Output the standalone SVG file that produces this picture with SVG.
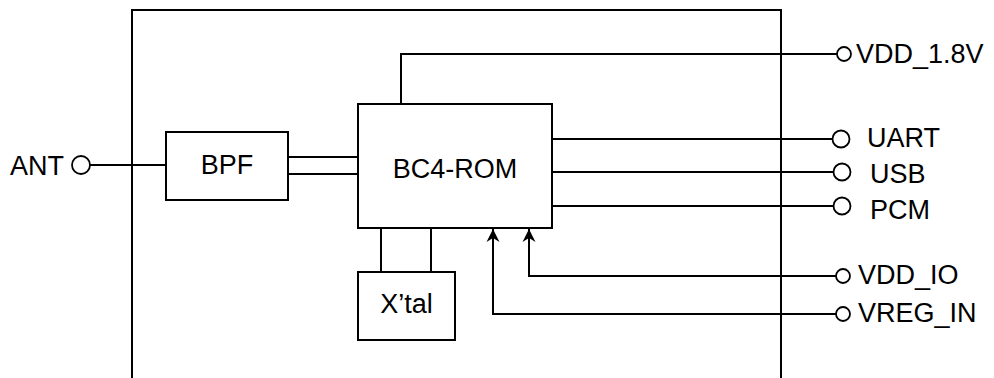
<svg xmlns="http://www.w3.org/2000/svg" width="994" height="378" viewBox="0 0 994 378">
<style>
.box{fill:#fff;stroke:#000;stroke-width:2}
.ln{fill:none;stroke:#000;stroke-width:2}
.pin{fill:#fff;stroke:#000;stroke-width:1.8}
text{font-family:"Liberation Sans",Arial,sans-serif;font-size:27px;fill:#000}
.c{text-anchor:middle}
</style>
<defs>
<marker id="arr" markerWidth="14" markerHeight="14" viewBox="0 0 14 14" refX="13" refY="7" orient="auto" markerUnits="userSpaceOnUse">
<path d="M13,7 L0,0.5 L4,7 L0,13.5 Z" fill="#000"/>
</marker>
</defs>
<g id="frame">
<path class="ln" d="M132,378 V10 H781 V378"/>
</g>
<g id="connectors">
<line class="ln" x1="90" y1="165" x2="166" y2="165"/>
<line class="ln" x1="288" y1="157" x2="358" y2="157"/>
<line class="ln" x1="288" y1="174" x2="358" y2="174"/>
<path class="ln" d="M401,104 V54 H837"/>
<line class="ln" x1="552" y1="139" x2="833" y2="139"/>
<line class="ln" x1="552" y1="172" x2="834" y2="172"/>
<line class="ln" x1="552" y1="206" x2="834" y2="206"/>
<line class="ln" x1="381" y1="228" x2="381" y2="272"/>
<line class="ln" x1="431" y1="228" x2="431" y2="272"/>
<path class="ln" d="M836,276 H529 V229" marker-end="url(#arr)"/>
<path class="ln" d="M836,314 H493 V229" marker-end="url(#arr)"/>
</g>
<g id="ant">
<circle class="pin" cx="81" cy="165" r="9"/>
<text x="10" y="175">ANT</text>
</g>
<g id="bpf">
<rect class="box" x="166" y="132" width="122" height="68"/>
<text class="c" x="227" y="174">BPF</text>
</g>
<g id="bc4rom">
<rect class="box" x="358" y="104" width="194" height="124"/>
<text class="c" x="455" y="178">BC4-ROM</text>
</g>
<g id="xtal">
<rect class="box" x="358" y="272" width="97" height="68"/>
<text class="c" x="406.5" y="313">X’tal</text>
</g>
<g id="vdd18">
<circle class="pin" cx="844" cy="54" r="7"/>
<text x="856" y="63">VDD_1.8V</text>
</g>
<g id="uart">
<circle class="pin" cx="841" cy="139" r="8.5"/>
<text x="867" y="147">UART</text>
</g>
<g id="usb">
<circle class="pin" cx="842" cy="172" r="8.5"/>
<text x="870" y="183">USB</text>
</g>
<g id="pcm">
<circle class="pin" cx="842" cy="206" r="8.5"/>
<text x="870" y="219">PCM</text>
</g>
<g id="vddio">
<circle class="pin" cx="843" cy="276" r="7"/>
<text x="858" y="284">VDD_IO</text>
</g>
<g id="vregin">
<circle class="pin" cx="843" cy="314" r="7"/>
<text x="858" y="322">VREG_IN</text>
</g>
</svg>
